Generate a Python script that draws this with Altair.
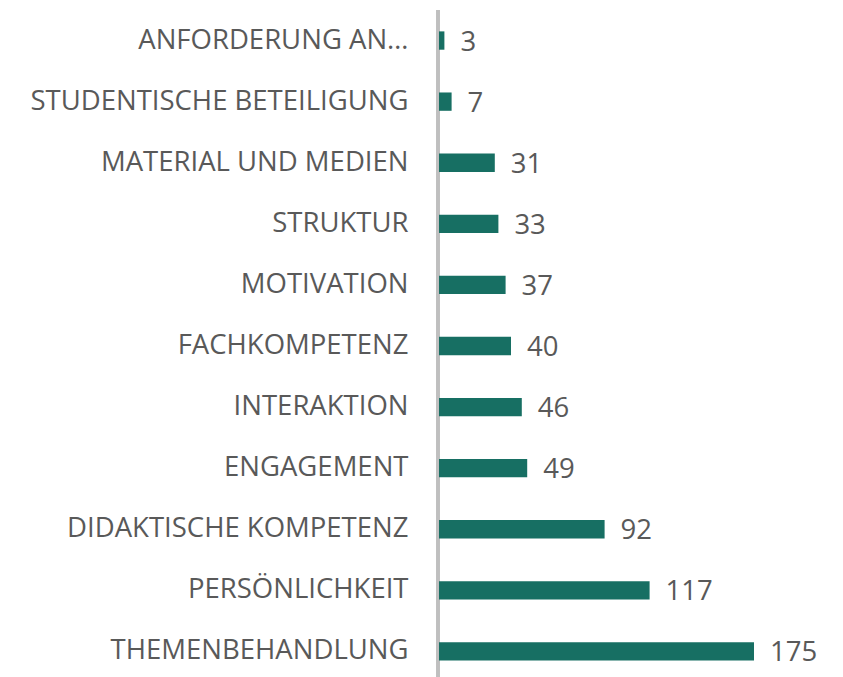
import altair as alt
import pandas as pd

categories = [
    "ANFORDERUNG AN…",
    "STUDENTISCHE BETEILIGUNG",
    "MATERIAL UND MEDIEN",
    "STRUKTUR",
    "MOTIVATION",
    "FACHKOMPETENZ",
    "INTERAKTION",
    "ENGAGEMENT",
    "DIDAKTISCHE KOMPETENZ",
    "PERSÖNLICHKEIT",
    "THEMENBEHANDLUNG",
]
values = [3, 7, 31, 33, 37, 40, 46, 49, 92, 117, 175]

df = pd.DataFrame({"category": categories, "value": values})

y_enc = alt.Y(
    "category:N",
    sort=categories,
    scale=alt.Scale(paddingInner=0.7, paddingOuter=0.35),
    axis=alt.Axis(
        title=None,
        ticks=False,
        grid=False,
        domain=False,
        labelFont="Open Sans",
        labelFontSize=27.5,
        labelColor="#595959",
        labelPadding=31,
        labelLimit=500,
    ),
)
x_enc = alt.X("value:Q", scale=alt.Scale(domain=[0, 220], nice=False), axis=None)

cover = alt.Chart(df).mark_rule(color="white", strokeWidth=4).encode(
    x=alt.value(1), x2=alt.value(396), y=alt.value(0)
)
axis_line = alt.Chart(df).mark_rule(color="#BFBFBF", strokeWidth=3).encode(
    x=alt.value(-1), y=alt.value(0), y2=alt.value(672)
)
bars = alt.Chart(df).mark_bar(color="#176F63").encode(x=x_enc, y=y_enc)
labels = alt.Chart(df).mark_text(
    align="left", baseline="middle", dx=16, dy=2,
    font="Open Sans", fontSize=27.5, color="#595959",
).encode(x=x_enc, y=y_enc, text="value:Q")

chart = (
    alt.layer(cover, axis_line, bars, labels)
    .properties(
        width=396,
        height=672,
        autosize=alt.AutoSizeParams(type="none"),
        padding={"left": 431, "top": 2, "right": 0, "bottom": 0},
    )
    .configure_view(stroke=None)
    .configure_axisX(domain=False, grid=False)
    .configure(background="white")
)

chart.save("out.html", embed_options={"renderer": "svg", "actions": False})
